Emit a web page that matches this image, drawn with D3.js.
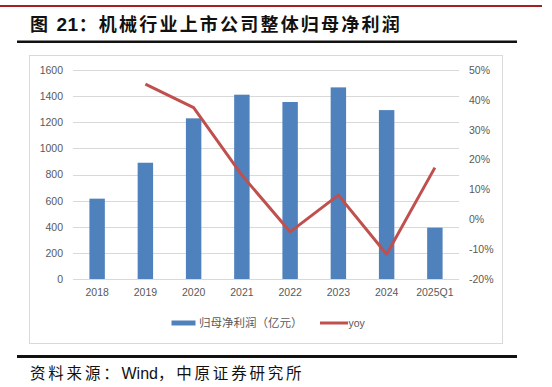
<!DOCTYPE html>
<html><head><meta charset="utf-8">
<script src="https://cdn.jsdelivr.net/npm/d3@7"></script>
<style>body{margin:0;background:#fff}svg{display:block}</style>
</head><body>
<script>
const categories = ["2018","2019","2020","2021","2022","2023","2024","2025Q1"];
const profit = [615, 890, 1230, 1411, 1355, 1467, 1293, 393];
const yoy = [null, 45.3, 37.4, 14.8, -4.2, 8.1, -11.7, 17.3];
const leftTicks = [0,200,400,600,800,1000,1200,1400,1600];
const rightTicks = [-20,-10,0,10,20,30,40,50];
const titleParts = ["图 ","21","：机械行业上市公司整体归母净利润"];
const sourceParts = ["资料来源：","Wind","，中原证券研究所"];
const legendLabels = ["归母净利润（亿元）","yoy"];

const W=552,H=387;
const svg=d3.select("body").append("svg").attr("width",W).attr("height",H);
const cjk='"Noto Sans CJK SC","Liberation Sans",sans-serif';
const lat='"Liberation Sans",Arial,sans-serif';

// header
svg.append("rect").attr("x",0).attr("y",5).attr("width",542).attr("height",2).attr("fill","#a61e22");
const tt=svg.append("text").attr("x",30).attr("y",31).attr("font-family",cjk).attr("font-weight","bold")
  .attr("font-size",18).attr("fill","#111");
tt.append("tspan").attr("letter-spacing",2.2).text(titleParts[0]);
tt.append("tspan").attr("font-family",lat).attr("font-size",19).attr("letter-spacing",0.5).text(titleParts[1]);
tt.append("tspan").attr("letter-spacing",2.2).text(titleParts[2]);
svg.append("rect").attr("x",17).attr("y",40.5).attr("width",500).attr("height",2.5).attr("fill","#111");

// chart border
svg.append("rect").attr("x",29.5).attr("y",55.5).attr("width",473).attr("height",288)
  .attr("fill","none").attr("stroke","#d9d9d9");

const x0=73,x1=459,yTop=70,yBot=279;
const x=d3.scaleBand().domain(categories).range([x0,x1]).paddingInner(0.68).paddingOuter(0.34);
const yL=d3.scaleLinear().domain([0,1600]).range([yBot,yTop]);
const yR=d3.scaleLinear().domain([-20,50]).range([yBot,yTop]);

// grid
svg.append("g").selectAll("line").data(leftTicks).join("line")
  .attr("x1",x0).attr("x2",x1).attr("y1",d=>Math.round(yL(d))+0.5).attr("y2",d=>Math.round(yL(d))+0.5)
  .attr("stroke","#d9d9d9").attr("stroke-width",1);

// axes
const axL=svg.append("g").attr("transform",`translate(${x0},0)`)
  .call(d3.axisLeft(yL).tickValues(leftTicks).tickSize(0).tickPadding(10).tickFormat(d3.format("d")));
const axR=svg.append("g").attr("transform",`translate(${x1},0)`)
  .call(d3.axisRight(yR).tickValues(rightTicks).tickSize(0).tickPadding(10).tickFormat(d=>d+"%"));
const axB=svg.append("g").attr("transform",`translate(0,${yBot})`)
  .call(d3.axisBottom(x).tickSize(0).tickPadding(10));
[axL,axR,axB].forEach(a=>{a.select(".domain").remove();
  a.selectAll("text").attr("font-family",lat).attr("font-size",10.5).attr("fill","#595959");});

// bars
svg.append("g").selectAll("rect").data(categories).join("rect")
  .attr("x",d=>x(d)).attr("width",x.bandwidth())
  .attr("y",(d,i)=>yL(profit[i])).attr("height",(d,i)=>yBot-yL(profit[i]))
  .attr("fill","#4f81bd");

// line
const pts=categories.map((c,i)=>({c,v:yoy[i]})).filter(p=>p.v!==null);
svg.append("path").datum(pts)
  .attr("d",d3.line().x(p=>x(p.c)+x.bandwidth()/2).y(p=>yR(p.v)))
  .attr("fill","none").attr("stroke","#c0504d").attr("stroke-width",3).attr("stroke-linejoin","round");

// legend
const lg=svg.append("g");
lg.append("rect").attr("x",171.5).attr("y",320.5).attr("width",24).attr("height",5).attr("fill","#4f81bd");
lg.append("text").attr("x",199).attr("y",327).attr("font-family",cjk).attr("font-size",11.5)
  .attr("fill","#595959").text(legendLabels[0]);
lg.append("line").attr("x1",320).attr("x2",348).attr("y1",323).attr("y2",323)
  .attr("stroke","#c0504d").attr("stroke-width",3);
lg.append("text").attr("x",348.5).attr("y",326.5).attr("font-family",lat).attr("font-size",10.5)
  .attr("fill","#595959").text(legendLabels[1]);

// footer
svg.append("rect").attr("x",17).attr("y",355).attr("width",500).attr("height",3).attr("fill","#111");
const ft=svg.append("text").attr("x",30).attr("y",379).attr("font-family",cjk).attr("font-size",15.5)
  .attr("fill","#111");
ft.append("tspan").attr("letter-spacing",2.8).text(sourceParts[0]);
ft.append("tspan").attr("font-family",lat).attr("font-size",16).attr("letter-spacing",0).text(sourceParts[1]);
ft.append("tspan").attr("letter-spacing",2.8).text(sourceParts[2]);
</script>
</body></html>
